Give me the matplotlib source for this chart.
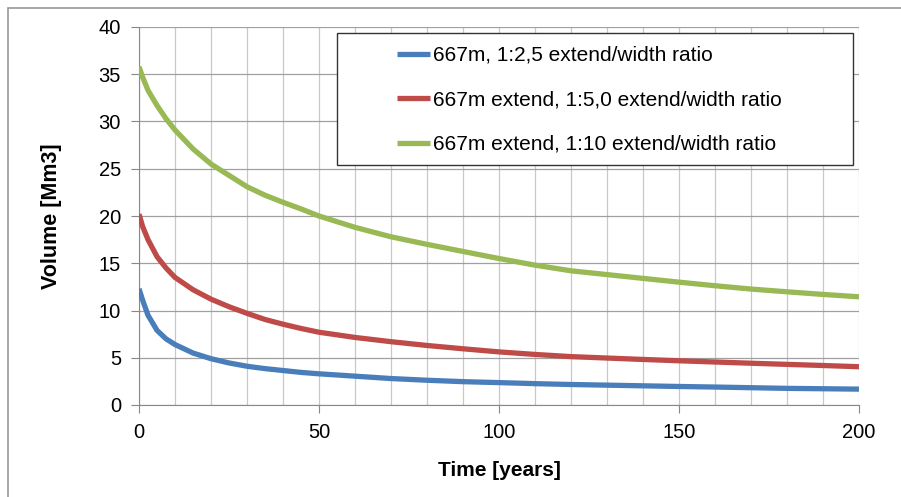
import numpy as np
import matplotlib.pyplot as plt
from matplotlib.patches import Rectangle
from matplotlib.ticker import MultipleLocator

plt.rcParams['font.family'] = ['Liberation Sans', 'DejaVu Sans']

# values
years = [0, 1, 2.5, 5, 7.5, 10, 15, 20, 25, 30, 35, 40, 45, 50, 60, 70, 80, 90, 100,
         110, 120, 130, 140, 150, 160, 170, 180, 190, 200]
vol_25 = [12.3, 11.1, 9.5, 7.9, 7.0, 6.4, 5.5, 4.9, 4.45, 4.1, 3.85, 3.65, 3.45, 3.3,
          3.05, 2.8, 2.62, 2.47, 2.37, 2.26, 2.17, 2.1, 2.03, 1.96, 1.9, 1.83, 1.76, 1.72, 1.68]
vol_50 = [20.2, 18.9, 17.5, 15.7, 14.5, 13.5, 12.2, 11.2, 10.4, 9.7, 9.05, 8.55, 8.1, 7.7,
          7.15, 6.7, 6.3, 5.95, 5.62, 5.35, 5.12, 4.97, 4.82, 4.68, 4.55, 4.42, 4.3, 4.18, 4.05]
vol_10 = [35.8, 34.7, 33.3, 31.7, 30.3, 29.1, 27.1, 25.5, 24.3, 23.1, 22.2, 21.45, 20.75, 20.0,
          18.8, 17.8, 17.0, 16.25, 15.5, 14.8, 14.2, 13.8, 13.4, 13.0, 12.62, 12.27, 11.98, 11.7, 11.45]

labels = ['667m, 1:2,5 extend/width ratio',
          '667m extend, 1:5,0 extend/width ratio',
          '667m extend, 1:10 extend/width ratio']
colors = ['#4A7EBB', '#BE4B48', '#98B954']

W, H = 901, 497
fig = plt.figure(figsize=(W / 100, H / 100), dpi=100)
ax = fig.add_axes([139 / W, 1 - 405 / H, 720 / W, 378 / H])

for vals, lab, col in zip([vol_25, vol_50, vol_10], labels, colors):
    ax.plot(years, vals, color=col, lw=3.8, label=lab, solid_capstyle='butt',
            solid_joinstyle='round', zorder=3)

ax.set_xlim(0, 200)
ax.set_ylim(0, 40)
ax.xaxis.set_major_locator(MultipleLocator(50))
ax.xaxis.set_minor_locator(MultipleLocator(10))
ax.yaxis.set_major_locator(MultipleLocator(5))
ax.grid(which='minor', axis='x', color='#c8c8c8', lw=0.9)
ax.grid(which='major', axis='x', color='#c8c8c8', lw=0.9)
ax.grid(which='major', axis='y', color='#a0a0a0', lw=0.9)
ax.tick_params(axis='x', which='minor', length=0)
ax.tick_params(which='major', length=6, color='#888888', labelsize=14.5, pad=7)
for s in ['top', 'right']:
    ax.spines[s].set_visible(False)
for s in ['left', 'bottom']:
    ax.spines[s].set_color('#888888')
ax.set_axisbelow(True)

ax.set_xlabel('Time [years]', fontsize=15, fontweight='bold', labelpad=14)
ax.set_ylabel('Volume [Mm3]', fontsize=15.5, fontweight='bold', labelpad=26)

# legend box
fig.patches.append(Rectangle((337 / W, 1 - 165 / H), 516 / W, 132 / H,
                             transform=fig.transFigure, facecolor='white',
                             edgecolor='#333333', lw=1.0, zorder=5))
leg = fig.legend(loc='upper left', bbox_to_anchor=(397 / W, 1 - 46 / H),
                 frameon=False, fontsize=15, handlelength=1.6, handletextpad=0.12,
                 labelspacing=1.22, borderaxespad=0, borderpad=0)
leg.set_zorder(6)

# outer frame
fig.patches.append(Rectangle((8 / W, -0.05), 1.1, 1.05 - 8 / H,
                             transform=fig.transFigure, facecolor='none',
                             edgecolor='#999999', lw=1.2))

fig.savefig('out.png', dpi=100)
